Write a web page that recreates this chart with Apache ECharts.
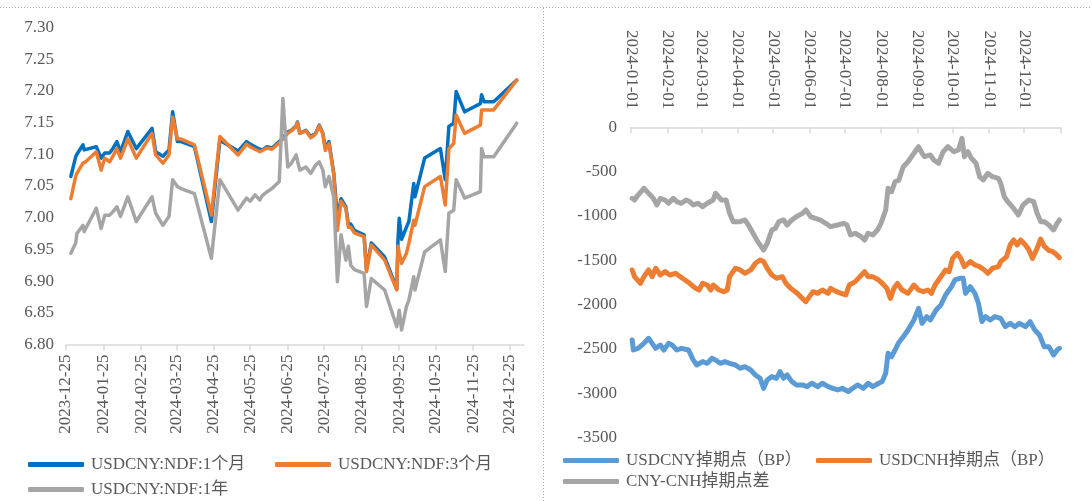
<!DOCTYPE html>
<html><head><meta charset="utf-8">
<script src="https://cdn.jsdelivr.net/npm/echarts@6/dist/echarts.min.js"></script>
<style>html,body{margin:0;padding:0;background:#fff}#c{width:1092px;height:501px}</style>
</head><body><div id="c"></div>
<script>
// ---------- Left chart: USDCNY NDF ----------
const ndfDates = ['2023-12-29','2024-01-02','2024-01-03','2024-01-08','2024-01-09','2024-01-10','2024-01-19','2024-01-23','2024-01-26','2024-01-30','2024-02-02','2024-02-05','2024-02-08','2024-02-14','2024-02-21','2024-03-05','2024-03-08','2024-03-14','2024-03-19','2024-03-22','2024-03-26','2024-03-29','2024-04-09','2024-04-23','2024-04-30','2024-05-15','2024-05-22','2024-05-25','2024-05-29','2024-06-02','2024-06-04','2024-06-08','2024-06-12','2024-06-18','2024-06-21','2024-06-25','2024-06-28','2024-07-02','2024-07-03','2024-07-05','2024-07-10','2024-07-14','2024-07-18','2024-07-21','2024-07-24','2024-07-26','2024-07-29','2024-08-02','2024-08-05','2024-08-08','2024-08-12','2024-08-14','2024-08-16','2024-08-19','2024-08-27','2024-08-29','2024-09-02','2024-09-13','2024-09-23','2024-09-24','2024-09-25','2024-09-27','2024-10-01','2024-10-03','2024-10-07','2024-10-08','2024-10-16','2024-10-29','2024-11-02','2024-11-05','2024-11-09','2024-11-11','2024-11-18','2024-12-01','2024-12-02','2024-12-04','2024-12-12','2024-12-31'];
const ndf1m = [7.065,7.096,7.100,7.115,7.107,7.107,7.112,7.094,7.102,7.102,7.110,7.120,7.104,7.136,7.109,7.141,7.104,7.097,7.107,7.167,7.120,7.120,7.112,6.994,7.122,7.105,7.120,7.116,7.112,7.108,7.107,7.112,7.110,7.120,7.126,7.135,7.138,7.145,7.151,7.133,7.138,7.128,7.133,7.146,7.133,7.110,7.120,7.070,7.000,7.030,7.017,6.990,6.990,6.980,6.973,6.918,6.960,6.938,6.888,6.965,6.999,6.966,6.985,6.994,7.054,7.033,7.094,7.109,7.060,7.144,7.149,7.199,7.167,7.180,7.194,7.183,7.183,7.217];
const ndf3m = [7.030,7.065,7.070,7.086,7.087,7.088,7.104,7.075,7.094,7.088,7.098,7.109,7.094,7.124,7.094,7.133,7.099,7.086,7.099,7.159,7.124,7.124,7.115,7.004,7.128,7.099,7.116,7.112,7.108,7.104,7.106,7.110,7.108,7.118,7.124,7.133,7.137,7.144,7.150,7.133,7.137,7.126,7.132,7.145,7.132,7.106,7.117,7.068,6.980,7.026,7.015,6.985,6.985,6.976,6.970,6.915,6.957,6.933,6.886,6.955,6.945,6.928,6.944,6.960,6.996,6.988,7.049,7.065,7.020,7.109,7.117,7.162,7.133,7.146,7.170,7.170,7.170,7.217];
const ndf1y = [6.944,6.960,6.975,6.988,6.978,6.982,7.015,6.983,7.004,7.004,7.010,7.017,7.002,7.033,6.994,7.033,7.007,6.988,7.002,7.060,7.049,7.046,7.038,6.936,7.060,7.012,7.031,7.026,7.036,7.028,7.035,7.041,7.046,7.057,7.188,7.080,7.086,7.099,7.090,7.075,7.080,7.070,7.083,7.088,7.075,7.049,7.065,7.032,6.899,6.973,6.933,6.955,6.925,6.918,6.912,6.860,6.904,6.886,6.828,6.840,6.854,6.823,6.860,6.870,6.907,6.886,6.946,6.965,6.915,7.007,7.012,7.060,7.031,7.041,7.109,7.096,7.096,7.149];
const ndfNames = ['USDCNY:NDF:1个月','USDCNY:NDF:3个月','USDCNY:NDF:1年'];
const leftStart = '2023-12-25', leftEnd = '2025-01-06';
const leftTickDay = '25';

// ---------- Right chart: swap points ----------
const cnyDates = ['01-02','01-03','01-07','01-12','01-16','01-19','01-22','01-26','01-29','02-02','02-05','02-09','02-13','02-19','02-23','02-26','03-02','03-06','03-10','03-13','03-17','03-21','03-25','03-30','04-03','04-07','04-12','04-16','04-20','04-23','04-26','04-30','05-04','05-07','05-10','05-13','05-17','05-21','05-26','05-30','06-03','06-08','06-12','06-17','06-21','06-25','06-29','07-04','07-08','07-12','07-17','07-21','07-25','07-30','08-02','08-05','08-07','08-10','08-13','08-16','08-20','08-24','08-29','09-02','09-05','09-09','09-12','09-17','09-21','09-25','09-30','10-03','10-07','10-10','10-12','10-16','10-20','10-23','10-26','10-29','11-02','11-06','11-11','11-15','11-19','11-23','11-27','12-02','12-06','12-10','12-14','12-18','12-22','12-26','12-29','12-31'];
const cnyVals = [-2399,-2512,-2493,-2437,-2380,-2437,-2493,-2456,-2512,-2437,-2456,-2512,-2493,-2512,-2624,-2681,-2643,-2662,-2606,-2624,-2662,-2643,-2662,-2681,-2718,-2700,-2737,-2793,-2831,-2944,-2850,-2812,-2831,-2756,-2831,-2793,-2868,-2906,-2906,-2925,-2887,-2925,-2887,-2925,-2944,-2962,-2944,-2981,-2944,-2906,-2944,-2887,-2925,-2887,-2868,-2775,-2549,-2587,-2512,-2430,-2362,-2286,-2173,-2042,-2211,-2136,-2173,-2061,-2004,-1891,-1798,-1722,-1703,-1703,-1873,-1798,-1873,-1985,-2192,-2136,-2173,-2136,-2155,-2249,-2211,-2249,-2211,-2249,-2192,-2286,-2342,-2474,-2474,-2568,-2512,-2493];
const cnhDates = ['01-02','01-04','01-09','01-12','01-16','01-19','01-22','01-26','01-30','02-03','02-08','02-12','02-16','02-20','02-25','02-28','03-02','03-06','03-09','03-11','03-16','03-20','03-23','03-25','03-30','04-03','04-07','04-12','04-16','04-20','04-23','04-26','04-30','05-04','05-09','05-12','05-16','05-20','05-23','05-26','05-29','06-01','06-04','06-08','06-12','06-17','06-19','06-24','06-28','07-02','07-05','07-10','07-14','07-18','07-21','07-25','07-30','08-02','08-06','08-09','08-12','08-15','08-19','08-24','08-29','09-02','09-06','09-10','09-13','09-16','09-21','09-25','09-28','10-01','10-05','10-08','10-11','10-16','10-20','10-24','10-28','10-31','11-04','11-09','11-11','11-16','11-19','11-22','11-25','11-28','12-02','12-05','12-08','12-12','12-15','12-18','12-22','12-25','12-28','12-31'];
const cnhVals = [-1609,-1685,-1760,-1685,-1609,-1685,-1590,-1666,-1628,-1666,-1647,-1685,-1722,-1760,-1816,-1835,-1760,-1779,-1835,-1779,-1835,-1854,-1835,-1685,-1590,-1609,-1647,-1609,-1534,-1497,-1515,-1590,-1666,-1703,-1685,-1760,-1816,-1854,-1891,-1929,-1967,-1910,-1854,-1873,-1835,-1873,-1816,-1854,-1873,-1891,-1779,-1741,-1685,-1628,-1685,-1685,-1722,-1760,-1816,-1929,-1816,-1760,-1835,-1873,-1779,-1835,-1854,-1835,-1873,-1779,-1685,-1609,-1628,-1478,-1421,-1478,-1572,-1515,-1553,-1572,-1609,-1647,-1590,-1572,-1515,-1459,-1327,-1271,-1327,-1271,-1327,-1384,-1478,-1365,-1260,-1340,-1390,-1400,-1430,-1470];
const diffDates = ['01-02','01-04','01-07','01-12','01-16','01-20','01-23','01-26','01-30','02-02','02-06','02-09','02-13','02-17','02-20','02-23','02-27','03-02','03-06','03-11','03-13','03-18','03-22','03-25','03-28','04-03','04-07','04-10','04-14','04-18','04-23','04-24','04-26','04-30','05-03','05-06','05-10','05-13','05-17','05-21','05-26','05-29','06-02','06-06','06-10','06-15','06-19','06-25','06-30','07-03','07-06','07-10','07-15','07-18','07-21','07-25','07-29','08-01','08-05','08-07','08-10','08-13','08-16','08-20','08-24','08-28','09-02','09-05','09-07','09-12','09-15','09-19','09-23','09-27','10-02','10-06','10-09','10-11','10-14','10-17','10-21','10-24','10-27','10-31','11-04','11-09','11-11','11-14','11-17','11-22','11-26','11-30','12-05','12-09','12-12','12-15','12-18','12-22','12-26','12-29','12-31'];
const diffVals = [-801,-820,-764,-688,-744,-800,-876,-801,-820,-857,-801,-838,-857,-820,-838,-876,-857,-895,-857,-820,-744,-820,-820,-970,-1064,-1064,-1045,-1102,-1195,-1290,-1384,-1365,-1309,-1158,-1140,-1064,-1045,-1102,-1045,-1008,-970,-933,-1008,-1027,-1045,-1083,-1121,-1102,-1083,-1102,-1215,-1195,-1233,-1271,-1195,-1215,-1158,-1083,-933,-688,-726,-613,-600,-444,-388,-312,-219,-293,-331,-312,-369,-406,-275,-219,-275,-256,-124,-331,-275,-350,-406,-557,-594,-519,-557,-576,-632,-783,-839,-914,-989,-876,-820,-838,-970,-1064,-1064,-1102,-1158,-1083,-1045];
const swapYear = '2024';
const swapNames = ['USDCNY掉期点（BP）','USDCNH掉期点（BP）','CNY-CNH掉期点差'];
const rightStart = '2024-01-01', rightEnd = '2025-01-01';
const rightTickDay = '01';

// ---------- helpers ----------
function dayRange(a, b) {
  const out = []; let d = new Date(a + 'T00:00:00Z'); const e = new Date(b + 'T00:00:00Z');
  while (d <= e) { out.push(d.toISOString().slice(0, 10)); d = new Date(d.getTime() + 86400000); }
  return out;
}
const leftCats = dayRange(leftStart, leftEnd);
const rightCats = dayRange(rightStart, rightEnd);
const pair = (ds, vs, pre) => ds.map((d, i) => [(pre || '') + d, vs[i]]);

const FONT = '"Liberation Serif","Noto Sans CJK SC",serif';
const TXT = '#595959', AX = '#D9D9D9';
const cL = ['#0070C0', '#ED7D31', '#A5A5A5'];
const cR = ['#5B9BD5', '#ED7D31', '#A5A5A5'];

function lineSeries(name, data, color, w, xi, yi) {
  return { name, type: 'line', data, xAxisIndex: xi, yAxisIndex: yi, showSymbol: false, symbol: 'none',
    itemStyle: { color }, lineStyle: { color, width: w, join: 'round', cap: 'round' }, animation: false };
}
function legendItem(name, left, top) {
  return { data: [name], left, top, icon: 'roundRect', itemWidth: 56, itemHeight: 5, padding: 0,
    textStyle: { fontFamily: FONT, fontSize: 17, color: TXT, padding: [0, 0, 0, 2] }, selectedMode: false };
}

const chart = echarts.init(document.getElementById('c'), null, { renderer: 'canvas' });
chart.setOption({
  backgroundColor: '#fff',
  animation: false,
  grid: [
    { left: 66, top: 27.5, width: 458, height: 317 },
    { left: 631, top: 127.3, width: 429.6, height: 310.3 }
  ],
  xAxis: [
    { type: 'category', gridIndex: 0, data: leftCats, boundaryGap: false,
      axisLine: { lineStyle: { color: AX, width: 1.5 } },
      axisTick: { show: true, length: 6, lineStyle: { color: AX, width: 1.5 }, interval: (i, v) => v.slice(8) === leftTickDay },
      axisLabel: { rotate: 90, margin: 10, fontFamily: FONT, fontSize: 17, color: TXT, interval: (i, v) => v.slice(8) === leftTickDay } },
    { type: 'category', gridIndex: 1, data: rightCats, boundaryGap: false, position: 'top',
      axisLine: { onZero: false, lineStyle: { color: AX, width: 1.5 } },
      axisTick: { show: true, inside: true, length: 6, lineStyle: { color: AX, width: 1.5 }, interval: (i, v) => v.slice(8) === rightTickDay },
      axisLabel: { rotate: 90, margin: 18, fontFamily: FONT, fontSize: 17, color: TXT,
        interval: (i, v) => v.slice(8) === rightTickDay && v !== rightEnd } }
  ],
  yAxis: [
    { type: 'value', gridIndex: 0, min: 6.8, max: 7.3, interval: 0.05,
      axisLine: { show: false }, axisTick: { show: false }, splitLine: { show: false },
      axisLabel: { margin: 12, fontFamily: FONT, fontSize: 17, color: TXT, formatter: v => v.toFixed(2) } },
    { type: 'value', gridIndex: 1, min: -3500, max: 0, interval: 500,
      axisLine: { show: false }, axisTick: { show: false }, splitLine: { show: false },
      axisLabel: { margin: 14, fontFamily: FONT, fontSize: 17, color: TXT, formatter: v => String(Math.round(v)) } }
  ],
  legend: [
    legendItem(ndfNames[0], 28, 456), legendItem(ndfNames[1], 275, 456), legendItem(ndfNames[2], 28, 481),
    legendItem(swapNames[0], 563, 452), legendItem(swapNames[1], 816, 452), legendItem(swapNames[2], 563, 473)
  ],
  series: [
    lineSeries(ndfNames[0], pair(ndfDates, ndf1m), cL[0], 3.5, 0, 0),
    lineSeries(ndfNames[1], pair(ndfDates, ndf3m), cL[1], 3.5, 0, 0),
    lineSeries(ndfNames[2], pair(ndfDates, ndf1y), cL[2], 3.5, 0, 0),
    lineSeries(swapNames[0], pair(cnyDates, cnyVals, swapYear + '-'), cR[0], 5, 1, 1),
    lineSeries(swapNames[1], pair(cnhDates, cnhVals, swapYear + '-'), cR[1], 5, 1, 1),
    lineSeries(swapNames[2], pair(diffDates, diffVals, swapYear + '-'), cR[2], 5, 1, 1)
  ],
  graphic: [
    { type: 'line', shape: { x1: 0, y1: 7.5, x2: 1092, y2: 7.5 }, style: { stroke: '#A6A6A6', lineWidth: 1, lineDash: [1, 2] }, silent: true },
    { type: 'line', shape: { x1: 543.5, y1: 8, x2: 543.5, y2: 501 }, style: { stroke: '#A6A6A6', lineWidth: 1, lineDash: [1, 2] }, silent: true }
  ]
});
</script></body></html>
